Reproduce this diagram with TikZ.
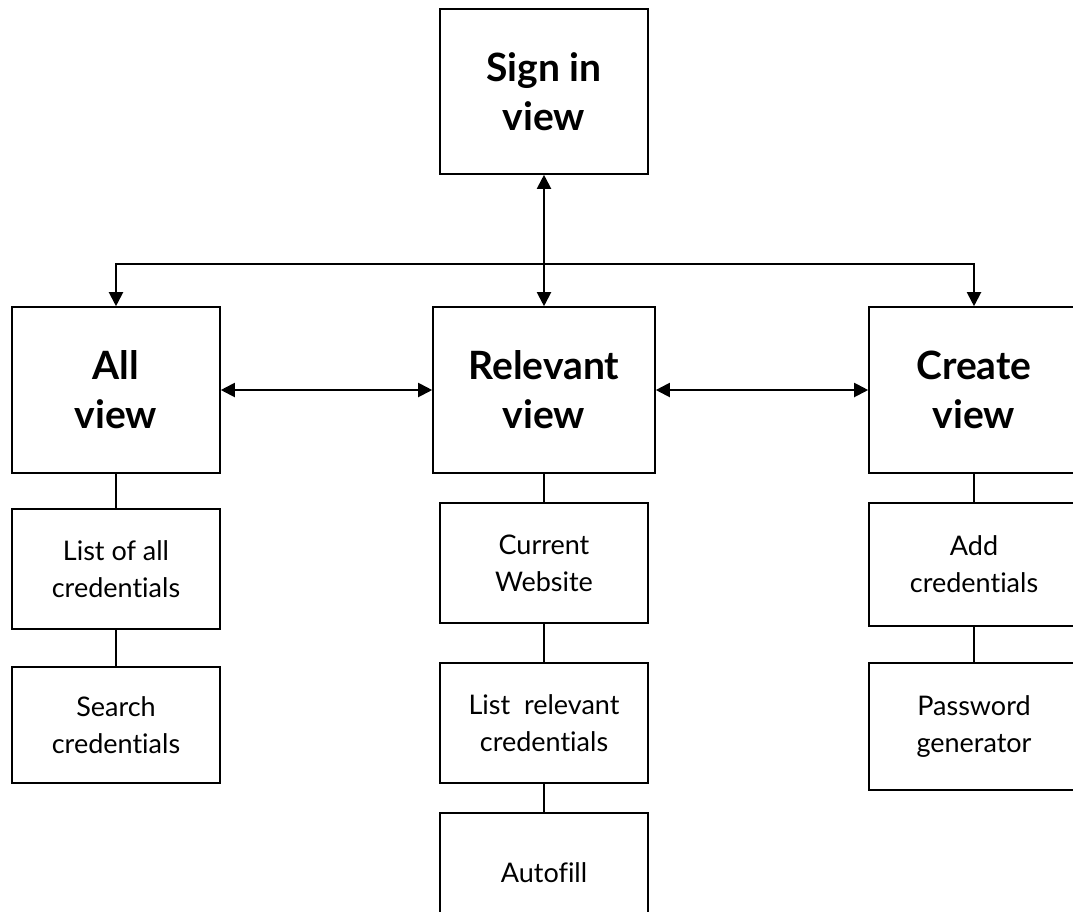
\documentclass[tikz,border=0pt]{standalone}
\usepackage{fontspec}
\setmainfont{Lato}[Ligatures=NoCommon]
\usetikzlibrary{arrows.meta,positioning}

\begin{document}
\begin{tikzpicture}[x=1pt,y=1pt,>={Triangle[length=14pt,width=14pt]},
		view/.style={draw,line width=1.6pt,align=center,inner sep=0pt,
			font=\fontsize{39}{49}\selectfont\bfseries},
		part/.style={draw,line width=1.4pt,align=center,inner sep=0pt,
			minimum width=208pt,minimum height=120pt,
			font=\fontsize{27}{37}\selectfont}]

		\useasboundingbox (0,0) rectangle (1073,-911);

		% top level
		\node[view,minimum width=208pt,minimum height=165pt] (sign) at (544,-91.5) {Sign in\\view};
		\node[view,minimum width=208pt,minimum height=166pt] (allv) at (116,-390) {All\\view};
		\node[view,minimum width=222pt,minimum height=166pt] (relv) at (544,-390) {Relevant\\view};
		\node[view,minimum width=210pt,minimum height=166pt] (crev) at (974,-390) {Create\\view};

		% below all view
		\node[part] (listall) [below of=allv, node distance=179pt] {List of all\\credentials};
		\node[part,minimum height=116pt] (search) [below of=listall, node distance=156pt] {Search\\credentials};

		% below relevant view
		\node[part] (site) [below of=relv, node distance=173pt] {Current\\Website};
		\node[part] (listrel) [below of=site, node distance=160pt] {List~~relevant\\credentials};
		\node[part] (autofill) [below of=listrel, node distance=150pt] {Autofill};

		% below create view
		\node[part,minimum width=210pt,minimum height=123pt] (add) [below of=crev, node distance=174.5pt] {Add\\credentials};
		\node[part,minimum width=210pt,minimum height=127pt] (pwgen) [below of=add, node distance=162pt] {Password\\generator};

		\coordinate (hub) at (544,-264);

		\begin{scope}[line width=2pt]
			\draw[<->] (sign) -- (relv);
			\draw[->] (hub) -| (allv);
			\draw[->] (hub) -| (crev);
			\draw[<->] (allv) -- (relv);
			\draw[<->] (relv) -- (crev);
		\end{scope}

		\begin{scope}[line width=1.4pt]
			\draw (allv) -- (listall);
			\draw (listall) -- (search);
			\draw (relv) -- (site);
			\draw (site) -- (listrel);
			\draw (listrel) -- (autofill);
			\draw (crev) -- (add);
			\draw (add) -- (pwgen);
		\end{scope}

	\end{tikzpicture}
\end{document}
